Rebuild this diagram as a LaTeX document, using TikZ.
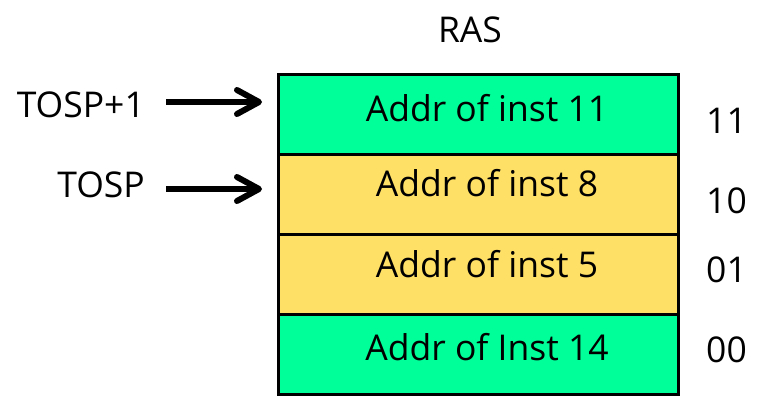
\documentclass[tikz,border=0pt]{standalone}
\usepackage{fontspec}
\setmainfont{Open Sans}
\usetikzlibrary{arrows.meta}
\definecolor{slotgreen}{RGB}{0,255,153}
\definecolor{slotyellow}{RGB}{255,224,102}
\begin{document}
\begin{tikzpicture}[x=1pt,y=-1pt,
  cell/.style={draw=black, line width=3pt, minimum width=400pt, minimum height=80pt, inner sep=0pt, outer sep=0pt},
  txt/.style={font=\fontsize{35.5}{40}\selectfont, inner sep=0pt, anchor=base},
  ptr/.style={line width=6pt, -{Straight Barb[length=22pt,width=24pt,round]}, shorten >=16pt}
]
\useasboundingbox (0,0) rectangle (760,397);

% stack slots, top to bottom
\node[cell, fill=slotgreen]  (s3) at (478,114) {};
\node[cell, fill=slotyellow] (s2) at (478,194) {};
\node[cell, fill=slotyellow] (s1) at (478,274) {};
\node[cell, fill=slotgreen]  (s0) at (478,354) {};

% slot contents
\node[txt] (c3) at (487,121) {Addr of inst 11};
\node[txt] (c2) at (487,196) {Addr of inst 8};
\node[txt] (c1) at (487,277) {Addr of inst 5};
\node[txt] (c0) at (487,360) {Addr of Inst 14};

% slot indices
\node[txt, anchor=base west] (i3) at (706,133) {11};
\node[txt, anchor=base west] (i2) at (706,213) {10};
\node[txt, anchor=base west] (i1) at (706,282) {01};
\node[txt, anchor=base west] (i0) at (706,362) {00};

% title
\node[txt] (title) at (470,42) {RAS};

% pointer labels and arrows
\node[txt, anchor=base east] (tp1) at (145,117) {TOSP+1};
\node[txt, anchor=base east] (tp)  at (145,197) {TOSP};
\coordinate (a1) at (166,102);
\coordinate (a0) at (166,189);
\draw[ptr] (a1) -- (a1 -| s3.west);
\draw[ptr] (a0) -- (a0 -| s2.west);
\end{tikzpicture}
\end{document}
